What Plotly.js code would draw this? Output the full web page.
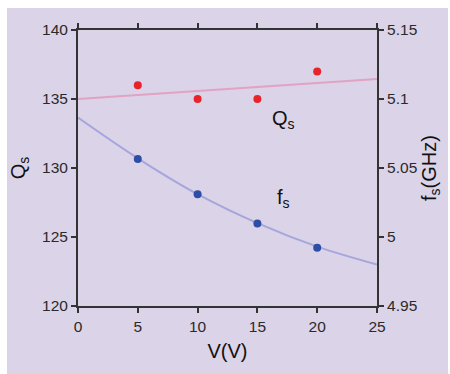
<!DOCTYPE html>
<html>
<head>
<meta charset="utf-8">
<script src="https://cdn.plot.ly/plotly-3.0.1.min.js"></script>
<style>
html,body{margin:0;padding:0;background:#ffffff;width:450px;height:374px;overflow:hidden;}
#chart{position:absolute;left:7px;top:8px;width:441px;height:366px;}
</style>
</head>
<body>
<div id="chart"></div>
<script>
// Measured points
const voltage = [5, 10, 15, 20];
const qs = [136, 135, 135, 137];
const fs = [5.0565, 5.031, 5.0097, 4.9923];
// Fit lines
const qsFitX = [0, 25];
const qsFitY = [135, 136.45];
const fsFitX = [0, 5, 10, 15, 20, 25];
const fsFitY = [5.0865, 5.057, 5.031, 5.010, 4.993, 4.980];
const xTicks = [0, 5, 10, 15, 20, 25];
const qTicks = [120, 125, 130, 135, 140];
const fTicks = [4.95, 5, 5.05, 5.1, 5.15];
const fTickText = ['4.95', '5', '5.05', '5.1', '5.15'];

const fam = 'Liberation Sans, Arial, sans-serif';
const tickFont = {family: fam, size: 15.5, color: '#2a2a2a'};
const titleFont = {family: fam, size: 20, color: '#111111'};

const traces = [
  {x: qsFitX, y: qsFitY, mode: 'lines', line: {color: '#e2a2c4', width: 2}, yaxis: 'y', hoverinfo: 'skip'},
  {x: fsFitX, y: fsFitY, mode: 'lines', line: {color: '#a6a6dc', width: 2, shape: 'spline'}, yaxis: 'y2', hoverinfo: 'skip'},
  {x: voltage, y: qs, mode: 'markers', marker: {color: '#e8242a', size: 8}, yaxis: 'y'},
  {x: voltage, y: fs, mode: 'markers', marker: {color: '#2d4ea6', size: 8}, yaxis: 'y2'}
];

const layout = {
  width: 441, height: 366,
  margin: {l: 71, r: 71, t: 22, b: 68},
  paper_bgcolor: '#dbd3e7',
  plot_bgcolor: '#dbd3e7',
  showlegend: false,
  xaxis: {
    range: [0, 25], tickvals: xTicks, ticks: 'outside', ticklen: 5, tickwidth: 2, tickcolor: '#333',
    showline: true, linecolor: '#333', linewidth: 2, mirror: 'ticks', showgrid: false, zeroline: false,
    tickfont: tickFont,
    title: {text: 'V(V)', font: titleFont, standoff: 10}
  },
  yaxis: {
    range: [120, 140], tickvals: qTicks, ticks: 'outside', ticklen: 5, tickwidth: 2, tickcolor: '#333',
    showline: true, linecolor: '#333', linewidth: 2, showgrid: false, zeroline: false,
    tickfont: tickFont,
    title: {text: 'Q<sub>s</sub>', font: titleFont, standoff: 12}
  },
  yaxis2: {
    range: [4.95, 5.15], tickvals: fTicks, ticktext: fTickText, overlaying: 'y', side: 'right',
    ticks: 'outside', ticklen: 5, tickwidth: 2, tickcolor: '#333',
    showline: true, linecolor: '#333', linewidth: 2, showgrid: false, zeroline: false,
    tickfont: tickFont,
    title: {text: 'f<sub>s</sub>(GHz)', font: titleFont, standoff: 6}
  },
  annotations: [
    {x: 17.2, y: 133.5, xref: 'x', yref: 'y', text: 'Q<sub>s</sub>', showarrow: false, font: {family: fam, size: 20, color: '#111'}},
    {x: 17.2, y: 127.8, xref: 'x', yref: 'y', text: 'f<sub>s</sub>', showarrow: false, font: {family: fam, size: 20, color: '#111'}}
  ]
};

Plotly.newPlot('chart', traces, layout, {displayModeBar: false, staticPlot: true});
</script>
</body>
</html>
